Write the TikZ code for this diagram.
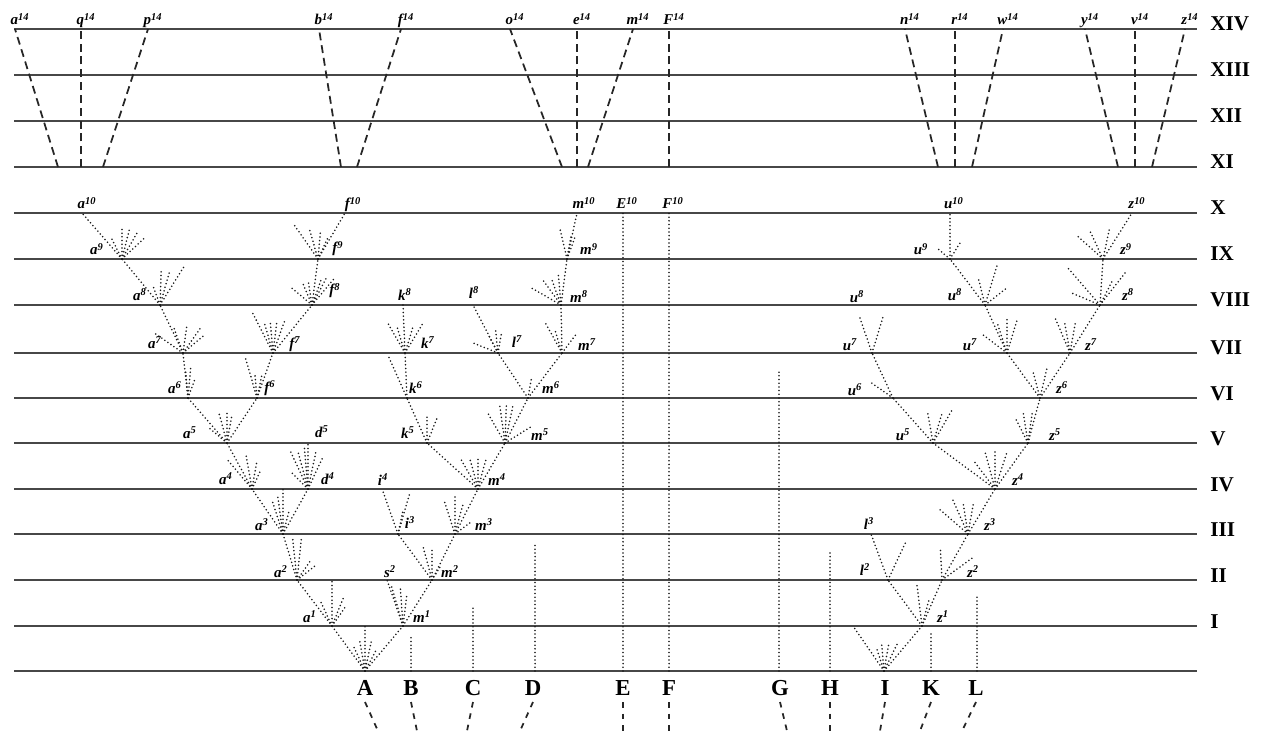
\documentclass[tikz,border=0pt]{standalone}
\usepackage{fontspec}
\setmainfont{Liberation Serif}
\usepackage{tikz}

\begin{document}
\begin{tikzpicture}[
  x=0.02cm, y=-0.02cm,
  rule/.style={line width=0.8pt, black!72},
  branch/.style={line width=1pt, black!90, line cap=round, dash pattern=on 0pt off 2.1pt},
  twig/.style={branch},
  trunk/.style={line width=1pt, black!85, dash pattern=on 4.5pt off 2.8pt},
  stub/.style={line width=1pt, black!85, dash pattern=on 3.2pt off 3.4pt},
  lbl/.style={font=\fontsize{8.5}{9}\selectfont\bfseries\itshape, inner sep=0pt, anchor=base},
  era/.style={font=\fontsize{12}{13}\selectfont\bfseries, inner sep=0pt, anchor=base west},
  stock/.style={font=\fontsize{13}{14}\selectfont\bfseries, inner sep=0pt, anchor=base},
]
\useasboundingbox (0,0) rectangle (1268,733);

% Generations
\draw[rule] (14,671) -- (1197,671);
\foreach \y/\r in {626/I, 580/II, 534/III, 489/IV, 443/V, 398/VI, 353/VII, 305/VIII,
                   259/IX, 213/X, 167/XI, 121/XII, 75/XIII, 29/XIV} {
  \draw[rule] (14,\y) -- (1197,\y);
  \node[era] (e\r) at (1210,{\y+2}) {\r};
}

% Original species
\foreach \n/\x in {A/365,B/411,C/473,D/535,E/623,F/669,G/779,H/830,I/884,K/931,L/977}
  \coordinate (\n) at (\x,671);
\foreach \n/\xt/\xb in {A/365/378, B/411/417, C/473/467, D/533/520, E/623/623, F/669/669,
                        G/780/787, H/830/830, I/885/880, K/931/920, L/976/962} {
  \node[stock] (s\n) at (\xt,695) {\n};
  \coordinate (\n-u) at (\xt,702);
  \coordinate (\n-d) at (\xb,731);
  \draw[stub] (\n-u) -- (\n-d);
}
\foreach \n/\x/\y in {A/365/626, B/411/636, C/473/605, D/535/545, E/623/213, F/669/213,
                      G/779/372, H/830/550, I/853/626, K/931/634, L/977/595} {
  \coordinate (\n-top) at (\x,\y);
  \draw[branch] (\n) -- (\n-top);
}

% Branching points
\foreach \n/\x/\y in {a1/332/626, a2/297/580, a3/283/534, a3v/283/489, a4/252/489, a5/227/443,
    a6/188/398, a7/183/353, a8/160/305, a9/122/259, a10/82/213,
    f6/257/398, f7/273/353, f8/312/305, f9/318/259, f10/345/213, d4/308/489, d5/308/443,
    m1/403/626, s2/387/580, m2/432/580, i3/398/534, i4/382/489, m3/455/534, m4/478/489,
    k5/427/443, k6/407/398, k7/405/353, k8/403/305, m5/505/443, m6/528/398, l7/498/353,
    l8/473/305, m7/562/353, m8/561/305, m9/567/259, m10/577/213,
    z1/922/626, l2/888/580, l3/871/534, z2/942/580, z3/968/534, z4/995/489, u5/933/443,
    u6/893/398, u7/872/353, z5/1028/443, z6/1040/398, uu7/1007/353, uu8/985/305,
    u9/950/259, u10/950/213, z7/1070/353, z8/1100/305, z9/1103/259, z10/1132/213}
  \coordinate (\n) at (\x,\y);

% Lines of descent
\foreach \p/\c in {A/a1, A/m1, a1/a2, a2/a3, a3/a3v, a3/a4, a3/d4, d4/d5, a4/a5, a5/a6, a5/f6,
    a6/a7, a7/a8, a8/a9, a9/a10, f6/f7, f7/f8, f8/f9, f9/f10,
    m1/s2, m1/m2, m2/i3, m2/m3, i3/i4, m3/m4, m4/k5, m4/m5, k5/k6, k6/k7, k7/k8,
    m5/m6, m6/l7, m6/m7, l7/l8, m7/m8, m8/m9, m9/m10,
    I/z1, z1/l2, z1/z2, l2/l3, z2/z3, z3/z4, z4/u5, z4/z5, u5/u6, u6/u7,
    z5/z6, z6/uu7, z6/z7, uu7/uu8, uu8/u9, u9/u10, z7/z8, z8/z9, z9/z10}
  \draw[branch] (\p) -- (\c);

% Short-lived varieties
\foreach \n/\fan in {A/{115/27,100/30,78/30,62/25}, a1/{90/46,115/27,68/30,55/25},
    a2/{96/42,84/42,55/25,38/25}, a3/{108/35,98/37,75/25}, a4/{130/40,100/35,80/28,65/22},
    a5/{140/25,105/30,90/30,80/28}, a6/{95/28,85/30,70/22}, a7/{145/35,110/28,82/28,55/30,40/28},
    a8/{110/22,88/35,74/35,58/45}, a9/{117/25,90/33,76/33,60/33,43/33},
    f6/{106/42,95/25,78/25}, f7/{117/47,106/31,95/30,83/30,70/35},
    f8/{140/28,113/25,99/25,70/28,62/33,50/35}, f9/{125/42,106/30,85/28,65/25},
    d4/{135/25,115/42,105/40,95/44,78/40,65/35}, k5/{90/28,68/28}, k6/{114/45},
    k7/{120/35,107/28,73/28,59/35}, m1/{106/44,94/39,83/33}, m2/{105/35,90/33,58/15},
    m3/{108/35,90/37,75/30,37/20}, m4/{120/35,105/30,90/33,75/30},
    m5/{120/34,98/37,88/37,78/37,32/30}, m6/{80/20}, l7/{158/28,118/22,96/25,80/22},
    m7/{119/35,107/25,53/25}, m8/{150/35,126/30,110/29,95/30}, m9/{103/33,80/25,70/25},
    i3/{78/25,74/42}, I/{108/25,95/28,80/26,64/33}, z1/{97/44,75/28}, l2/{65/44},
    z2/{93/33,36/37}, z3/{139/40,114/37,99/31,80/30}, z4/{127/36,105/38,90/37,72/38},
    u5/{100/31,73/31,60/37}, u6/{145/28}, u7/{109/38,73/38}, z5/{117/28,99/30,82/30},
    z6/{105/27,77/31}, uu7/{143/30,108/31,90/36,73/35}, z7/{113/39,100/31,80/30},
    uu8/{104/29,73/44,38/27}, z8/{157/32,131/50,63/27,52/44}, u9/{140/18,58/22},
    z9/{138/35,115/30,78/33}}
  \foreach \a/\l in \fan
    \draw[twig] (\n) -- ++(-\a:\l);

% Labels of the descendants
\foreach \n/\x/\y/\c/\s in {a1/310/622/a/1, a2/281/577/a/2, a3/262/530/a/3, a4/226/484/a/4,
    a5/190/438/a/5, a6/175/393/a/6, a7/155/348/a/7, a8/140/300/a/8, a9/97/255/a/9,
    a10/87/209/a/10, f6/270/392/f/6, f7/295/348/f/7, f8/335/295/f/8, f9/338/253/f/9,
    f10/353/209/f/10, d4/328/484/d/4, d5/322/437/d/5, s2/390/577/s/2, m1/422/622/m/1,
    m2/450/577/m/2, i3/410/528/i/3, m3/484/530/m/3, i4/383/485/i/4, m4/497/485/m/4,
    k5/408/438/k/5, m5/540/440/m/5, k6/416/393/k/6, m6/551/393/m/6, k7/428/348/k/7,
    l7/517/347/l/7, m7/587/350/m/7, k8/405/300/k/8, l8/474/298/l/8, m8/579/302/m/8,
    m9/589/255/m/9, m10/584/209/m/10, E10/627/209/E/10, F10/673/209/F/10,
    z1/943/622/z/1, l2/865/575/l/2, z2/973/577/z/2, l3/869/529/l/3, z3/990/530/z/3,
    z4/1018/485/z/4, u5/903/440/u/5, z5/1055/440/z/5, u6/855/395/u/6, z6/1062/393/z/6,
    u7/850/350/u/7, uu7/970/350/u/7, z7/1091/350/z/7, u8/857/302/u/8, uu8/955/300/u/8,
    z8/1128/300/z/8, u9/921/255/u/9, z9/1126/255/z/9, u10/954/209/u/10, z10/1137/209/z/10}
  \node[lbl] (t\n) at (\x,\y) {\c\textsuperscript{\s}};

% Fourteenth thousand generation
\foreach \n/\xt/\xb/\c in {a14/15/58/a, q14/81/81/q, p14/148/103/p, b14/319/341/b, f14/401/357/f,
    o14/510/562/o, e14/577/577/e, m14/633/588/m, F14/669/669/F, n14/905/938/n,
    r14/955/955/r, w14/1003/972/w, y14/1085/1118/y, v14/1135/1135/v, z14/1185/1152/z} {
  \coordinate (\n-t) at (\xt,29);
  \coordinate (\n-b) at (\xb,167);
  \draw[trunk] (\n-b) -- (\n-t);
  \node[lbl] (t\n) at ({\xt+5},25) {\c\textsuperscript{14}};
}
\end{tikzpicture}
\end{document}
